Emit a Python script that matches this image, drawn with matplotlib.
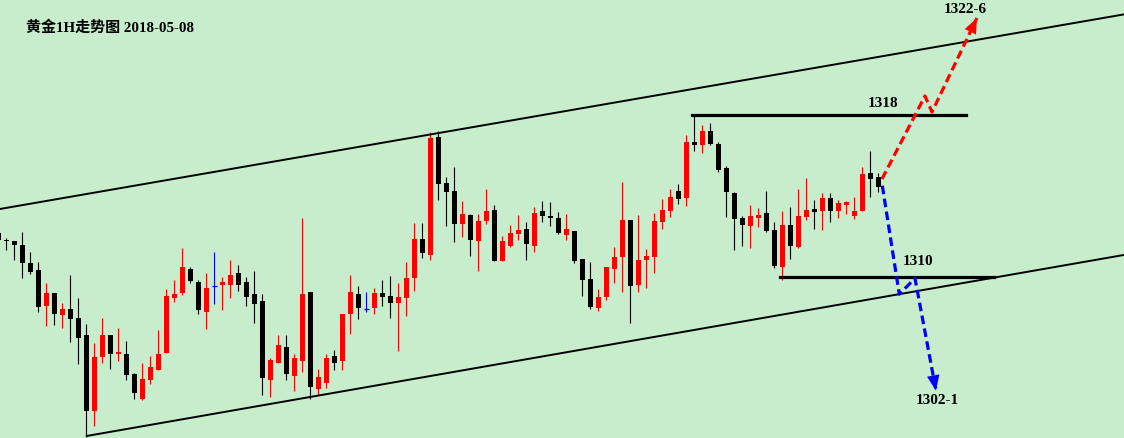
import numpy as np
import matplotlib.pyplot as plt

plt.rcParams['font.family'] = ['Liberation Serif', 'Noto Sans CJK SC']

# gold 1H bars (bar index = position, prices)
opens = [
    1312.17, 1311.83, 1311.78, 1311.58, 1310.69, 1310.35, 1308.58, 1309.21, 1308.14, 1308.42,
    1307.98, 1307.14, 1303.40, 1306.06, 1307.14, 1306.21, 1306.20, 1305.22, 1303.98, 1304.93,
    1305.42, 1306.26, 1308.98, 1309.22, 1310.40, 1309.75, 1308.29, 1309.54, 1309.62, 1309.62,
    1310.20, 1309.75, 1309.16, 1308.81, 1304.93, 1305.77, 1306.54, 1305.13, 1305.87, 1309.26,
    1304.48, 1304.78, 1306.10, 1305.87, 1308.19, 1309.16, 1308.41, 1308.48, 1309.21, 1309.06,
    1308.73, 1308.98, 1309.97, 1311.88, 1311.10, 1316.91, 1314.64, 1314.25, 1312.63, 1313.06,
    1311.79, 1312.78, 1313.31, 1310.80, 1311.55, 1312.14, 1312.37, 1311.55, 1313.26, 1313.01,
    1312.91, 1312.09, 1312.27, 1310.89, 1309.90, 1308.48, 1309.03, 1310.41, 1311.00, 1312.81,
    1309.62, 1310.85, 1311.00, 1312.73, 1313.27, 1314.25, 1313.92, 1316.67, 1316.53, 1317.21,
    1316.57, 1315.38, 1314.15, 1312.91, 1312.53, 1312.93, 1313.16, 1312.32, 1310.51, 1312.57,
    1311.50, 1312.98, 1313.36, 1313.27, 1313.90, 1313.27, 1313.57, 1313.03, 1313.27, 1315.14,
    1314.94]
closes = [
    1311.83, 1311.79, 1311.60, 1310.71, 1310.26, 1308.53, 1309.21, 1308.19, 1308.42, 1307.94,
    1307.00, 1303.40, 1306.06, 1307.14, 1306.21, 1306.30, 1305.18, 1304.29, 1304.96, 1305.57,
    1306.20, 1309.06, 1309.16, 1310.49, 1309.80, 1308.39, 1309.46, 1309.54, 1309.75, 1310.10,
    1309.62, 1309.03, 1308.68, 1305.03, 1305.90, 1306.64, 1305.22, 1306.00, 1309.16, 1304.58,
    1305.06, 1306.00, 1305.77, 1308.17, 1309.26, 1308.48, 1308.41, 1309.21, 1309.03, 1308.73,
    1309.01, 1309.95, 1311.88, 1311.20, 1316.88, 1314.61, 1314.21, 1312.63, 1313.11, 1311.84,
    1312.77, 1313.26, 1310.80, 1311.78, 1312.17, 1312.32, 1311.64, 1313.16, 1313.03, 1312.93,
    1312.19, 1312.37, 1310.80, 1309.87, 1308.53, 1309.01, 1310.49, 1310.99, 1312.81, 1309.57,
    1310.84, 1311.04, 1312.77, 1313.31, 1313.95, 1313.87, 1316.67, 1316.53, 1317.21, 1316.57,
    1315.30, 1314.21, 1312.88, 1312.58, 1313.01, 1313.06, 1312.29, 1310.56, 1312.57, 1311.55,
    1313.01, 1313.31, 1313.22, 1313.90, 1313.27, 1313.65, 1313.70, 1313.26, 1315.09, 1314.85,
    1314.46]
highs = [
    1312.22, 1311.93, 1311.78, 1312.22, 1311.23, 1310.74, 1309.70, 1309.21, 1308.72, 1310.10,
    1308.96, 1307.68, 1306.73, 1307.98, 1307.14, 1307.48, 1306.84, 1305.27, 1305.75, 1306.10,
    1307.40, 1309.39, 1309.85, 1311.43, 1310.49, 1309.85, 1310.20, 1311.23, 1310.00, 1310.84,
    1310.59, 1310.00, 1310.30, 1309.16, 1306.00, 1307.14, 1307.14, 1306.20, 1312.91, 1309.26,
    1305.46, 1306.20, 1306.40, 1308.17, 1310.10, 1309.56, 1309.26, 1309.46, 1309.85, 1310.05,
    1309.70, 1310.74, 1312.65, 1312.65, 1317.15, 1317.21, 1314.94, 1315.43, 1313.75, 1313.11,
    1313.11, 1314.35, 1313.56, 1312.02, 1312.57, 1313.06, 1312.72, 1313.46, 1313.75, 1313.70,
    1313.21, 1313.11, 1312.27, 1310.89, 1310.74, 1309.41, 1310.49, 1311.48, 1314.69, 1312.81,
    1313.06, 1311.38, 1313.16, 1313.85, 1314.35, 1314.59, 1317.01, 1318.00, 1317.51, 1317.60,
    1316.67, 1315.48, 1314.20, 1313.01, 1313.56, 1313.41, 1314.25, 1312.72, 1313.26, 1313.46,
    1314.35, 1314.89, 1313.80, 1314.15, 1314.15, 1313.80, 1313.75, 1313.95, 1315.43, 1316.22,
    1315.14]
lows = [
    1311.78, 1311.33, 1310.84, 1309.97, 1310.15, 1308.29, 1307.60, 1307.64, 1307.50, 1306.80,
    1305.72, 1302.11, 1302.66, 1305.77, 1305.47, 1305.87, 1304.93, 1303.99, 1303.94, 1304.72,
    1305.42, 1306.26, 1308.78, 1309.11, 1309.72, 1308.19, 1307.45, 1308.68, 1308.39, 1308.98,
    1309.32, 1308.57, 1307.74, 1304.19, 1304.09, 1305.77, 1304.93, 1304.39, 1305.32, 1303.96,
    1304.19, 1304.53, 1305.42, 1305.42, 1307.20, 1307.94, 1308.29, 1308.19, 1308.58, 1307.99,
    1306.36, 1308.09, 1309.32, 1310.95, 1310.85, 1313.82, 1312.53, 1311.74, 1311.99, 1311.05,
    1310.31, 1312.63, 1310.80, 1310.80, 1311.50, 1311.84, 1310.85, 1311.25, 1312.73, 1312.53,
    1312.14, 1311.84, 1310.71, 1309.08, 1308.43, 1308.34, 1308.88, 1309.72, 1309.27, 1307.74,
    1309.27, 1309.47, 1310.21, 1312.39, 1312.98, 1313.62, 1313.52, 1316.24, 1316.14, 1316.53,
    1315.20, 1312.98, 1311.35, 1311.55, 1311.45, 1312.48, 1312.24, 1310.46, 1309.87, 1310.90,
    1311.45, 1312.83, 1312.39, 1312.34, 1312.73, 1312.93, 1313.13, 1312.88, 1313.27, 1313.97,
    1314.21]

# channel lines (bar index, price)
upper_x = [0.21, 140.71]
upper_y = [1313.36, 1322.97]
lower_x = [11.05, 140.71]
lower_y = [1302.15, 1311.09]

# horizontal levels
level_1318 = ([86.7, 121.0], 1318)
level_1310 = ([97.7, 124.4], 1310)

# projected paths
up_path_x = [110.46, 115.83, 116.71, 122.33]
up_path_y = [1314.84, 1318.94, 1318.15, 1322.79]
down_path_x = [110.5, 112.62, 114.58, 117.21]
down_path_y = [1314.51, 1309.15, 1309.94, 1304.39]

labels = [('1318', 110.6, 1318.59), ('1322-6', 120.83, 1323.19),
          ('1310', 114.96, 1310.79), ('1302-1', 117.33, 1303.88)]

bg = '#C7EDCC'
fig = plt.figure(figsize=(11.24, 4.38), dpi=100)
fig.patch.set_facecolor(bg)
ax = fig.add_axes([0, 0, 1, 1])
ax.set_facecolor(bg)

o = np.array(opens)
c = np.array(closes)
h = np.array(highs)
l = np.array(lows)
x = np.arange(len(o))

cols = np.where(c > o, 'red', np.where(c < o, 'black', 'blue'))

ax.vlines(x, l, h, colors=cols, lw=0.8, zorder=2)
body = c != o
ax.bar(x[body], np.maximum(np.abs(c - o)[body], 0.06), bottom=np.minimum(o, c)[body],
       width=0.625, color=cols[body], linewidth=0, zorder=3)
ax.hlines(o[~body], x[~body] - 0.32, x[~body] + 0.32, colors='blue', lw=0.9, zorder=3)

ax.plot(upper_x, upper_y, color='black', lw=1.4, zorder=4)
ax.plot(lower_x, lower_y, color='black', lw=1.4, zorder=4)
ax.plot(level_1318[0], [level_1318[1]] * 2, color='black', lw=2.3, zorder=4)
ax.plot(level_1310[0], [level_1310[1]] * 2, color='black', lw=2.3, zorder=4)

for px, py, col in [(up_path_x, up_path_y, 'red'), (down_path_x, down_path_y, 'blue')]:
    ax.plot(px, py, color=col, lw=2.3, dashes=(2.7, 1.4), dash_capstyle='butt', zorder=5)
    ax.annotate('', xy=(px[-1], py[-1]), xytext=(px[-2], py[-2]),
                arrowprops=dict(arrowstyle='-|>,head_length=1.1,head_width=0.45',
                                mutation_scale=10, lw=0, color=col,
                                shrinkA=0, shrinkB=0), zorder=6)

for txt, tx, ty in labels:
    ax.text(tx, ty, txt, ha='center', va='center', fontsize=11, fontweight='bold', zorder=7)

ax.text(0.0231, 0.937, '黄金1H走势图 2018-05-08', transform=ax.transAxes,
        ha='left', va='center', fontsize=10.8, fontweight='bold')

ax.set_xlim(0.21, 140.71)
ax.set_ylim(1302.05, 1323.68)
ax.axis('off')

fig.savefig('out.png', dpi=100, facecolor=bg)
